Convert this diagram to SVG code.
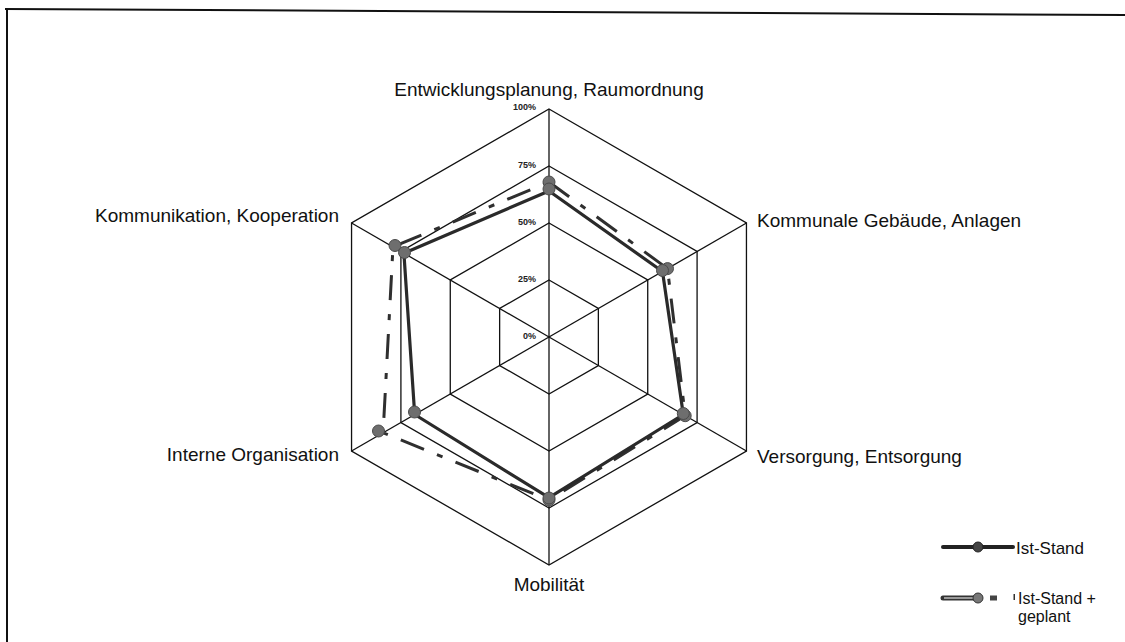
<svg xmlns="http://www.w3.org/2000/svg" width="1125" height="642" viewBox="0 0 1125 642">
<style>
.grid{fill:none;stroke:#111;stroke-width:1.3}
.lbl{font-family:"Liberation Sans",Arial,sans-serif;font-size:19px;fill:#111}
.tick{font-family:"Liberation Sans",Arial,sans-serif;font-size:9px;fill:#222;text-anchor:end;font-weight:bold}
.solid{fill:none;stroke:#2a2a2a;stroke-width:3.2;stroke-linejoin:round}
.dash{fill:none;stroke:#2f2f2f;stroke-width:3;stroke-dasharray:25 14 6 14}
.mk{fill:#6e6e6e;stroke:#4a4a4a;stroke-width:1}
.leg{font-family:"Liberation Sans",Arial,sans-serif;font-size:17px;fill:#111}
.leg2{font-family:"Liberation Sans",Arial,sans-serif;font-size:16px;fill:#111}
</style>
<rect width="1125" height="642" fill="#fff"/>
<g id="frame" fill="none" stroke="#111" stroke-width="2">
<polyline points="1125,15 5,9"/>
<line x1="7" y1="9" x2="7" y2="642"/>
</g>
<g id="grid">
<polygon class="grid" points="549,109 746.45,223 746.45,451 549,565 351.55,451 351.55,223"/>
<polygon class="grid" points="549,166 697.09,251.5 697.09,422.5 549,508 400.91,422.5 400.91,251.5"/>
<polygon class="grid" points="549,223 647.73,280 647.73,394 549,451 450.27,394 450.27,280"/>
<polygon class="grid" points="549,280 598.36,308.5 598.36,365.5 549,394 499.64,365.5 499.64,308.5"/>
<g class="grid">
<line x1="549" y1="337" x2="549" y2="109"/>
<line x1="549" y1="337" x2="746.45" y2="223"/>
<line x1="549" y1="337" x2="746.45" y2="451"/>
<line x1="549" y1="337" x2="549" y2="565"/>
<line x1="549" y1="337" x2="351.55" y2="451"/>
<line x1="549" y1="337" x2="351.55" y2="223"/>
</g>
</g>
<g id="ticks">
<text class="tick" x="536" y="110">100%</text>
<text class="tick" x="536" y="168">75%</text>
<text class="tick" x="536" y="225">50%</text>
<text class="tick" x="536" y="282">25%</text>
<text class="tick" x="536" y="339">0%</text>
</g>
<g id="axis-labels">
<text id="lbl-entwicklung" class="lbl" x="549" y="96" text-anchor="middle">Entwicklungsplanung, Raumordnung</text>
<text id="lbl-kommunale" class="lbl" x="757" y="227">Kommunale Gebäude, Anlagen</text>
<text id="lbl-versorgung" class="lbl" x="757" y="463">Versorgung, Entsorgung</text>
<text id="lbl-mobilitaet" class="lbl" x="549" y="591" text-anchor="middle">Mobilität</text>
<text id="lbl-interne" class="lbl" x="339" y="461" text-anchor="end">Interne Organisation</text>
<text id="lbl-kommunikation" class="lbl" x="339" y="222" text-anchor="end">Kommunikation, Kooperation</text>
</g>
<g id="series-geplant">
<polygon class="dash" points="549,182 667.5,268.6 685.2,415.7 549,500 383.1,432.8 393,246.9"/>
<g>
<circle class="mk" cx="549" cy="182" r="6"/>
<circle class="mk" cx="667.5" cy="268.6" r="6"/>
<circle class="mk" cx="685.2" cy="415.7" r="6"/>
<circle class="mk" cx="549" cy="500" r="6"/>
<circle class="mk" cx="378.5" cy="431" r="6"/>
<circle class="mk" cx="395" cy="245.5" r="6"/>
</g>
</g>
<g id="series-ist">
<polygon class="solid" points="549,191 662.5,271.5 683.3,414.5 549,497.7 414.7,414.5 403.9,253.2"/>
<g>
<circle class="mk" cx="549" cy="189" r="6"/>
<circle class="mk" cx="662.5" cy="270.5" r="6"/>
<circle class="mk" cx="683.3" cy="413.5" r="6"/>
<circle class="mk" cx="549" cy="498" r="6"/>
<circle class="mk" cx="414.5" cy="412" r="6"/>
<circle class="mk" cx="404.5" cy="252.5" r="6"/>
</g>
</g>
<g id="legend">
<g id="legend-ist">
<line x1="943" y1="547" x2="1013" y2="547" stroke="#222" stroke-width="4" stroke-linecap="round"/>
<circle cx="978" cy="547" r="5" fill="#444" stroke="#222"/>
<text class="leg" x="1016" y="554">Ist-Stand</text>
</g>
<g id="legend-geplant">
<line x1="943" y1="598" x2="976" y2="598" stroke="#333" stroke-width="5" stroke-linecap="round"/>
<line x1="944" y1="598" x2="976" y2="598" stroke="#999" stroke-width="2"/>
<circle cx="978" cy="598" r="5" fill="#777" stroke="#333"/>
<rect x="990" y="595.5" width="7" height="5" fill="#444"/>
<rect x="1013.5" y="594" width="1.5" height="6" fill="#333"/>
<text class="leg2" x="1018" y="604">Ist-Stand +</text>
<text class="leg2" x="1018" y="622">geplant</text>
</g>
</g>
</svg>
